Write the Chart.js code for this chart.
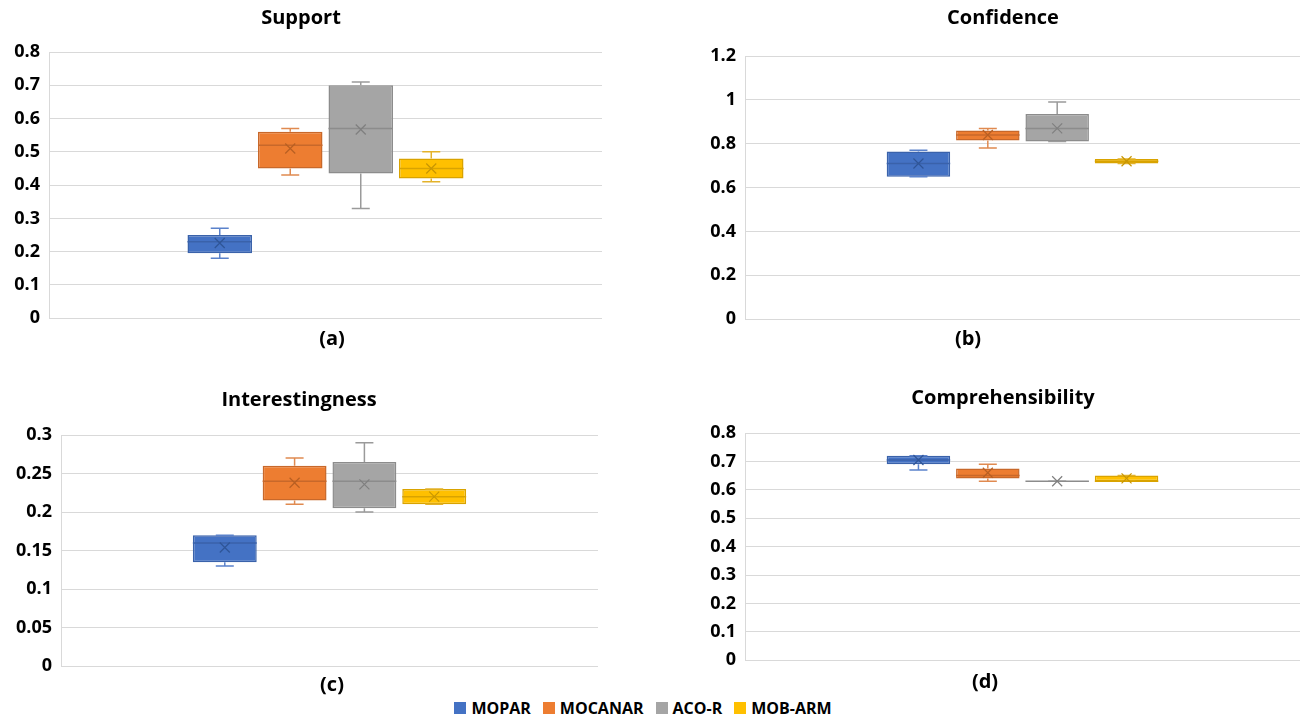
<!DOCTYPE html>
<html>
<head>
<meta charset="utf-8">
<script src="https://cdn.jsdelivr.net/npm/chart.js@4.4.1/dist/chart.umd.min.js"></script>
<style>
  body{margin:0;background:#fff;width:1304px;height:720px;position:relative;overflow:hidden;font-family:"Open Sans",sans-serif;}
  canvas{position:absolute;}
  .tag{position:absolute;font-weight:700;font-size:20px;color:#000;transform:translate(-50%,-50%);}
  #legend{position:absolute;left:0;width:1286px;top:697px;display:flex;justify-content:center;gap:12px;font-weight:700;font-size:16px;color:#000;}
  #legend span{display:flex;align-items:center;}
  #legend i{display:inline-block;width:12px;height:12px;margin-right:5px;}
</style>
</head>
<body>
<canvas id="cSupport"></canvas>
<canvas id="cConfidence"></canvas>
<canvas id="cInterest"></canvas>
<canvas id="cComp"></canvas>
<div class="tag" style="left:332px;top:337px">(a)</div>
<div class="tag" style="left:968px;top:337px">(b)</div>
<div class="tag" style="left:332px;top:683px">(c)</div>
<div class="tag" style="left:985px;top:680px">(d)</div>
<div id="legend"></div>

<script>
// ===== data =====
const methods = ['MOPAR','MOCANAR','ACO-R','MOB-ARM'];
const fills   = ['#4472C4','#ED7D31','#A5A5A5','#FFC000'];
const edges   = ['#3A62AA','#C8682A','#8C8C8C','#D9A300'];
const whisks  = ['#5B82CB','#E08A50','#9A9A9A','#E3B22A'];
const marks   = ['#2F5597','#B85F22','#7F7F7F','#C89600'];

// order per array: MOPAR, MOCANAR, ACO-R, MOB-ARM
const supportMin  = [0.18, 0.43, 0.33, 0.41];
const supportQ1   = [0.195,0.45, 0.435,0.42];
const supportMed  = [0.23, 0.52, 0.57, 0.45];
const supportQ3   = [0.25, 0.56, 0.70, 0.48];
const supportMax  = [0.27, 0.57, 0.71, 0.50];
const supportMean = [0.226,0.51, 0.567,0.45];

const confMin  = [0.65, 0.78, 0.81, 0.71];
const confQ1   = [0.65, 0.815,0.81, 0.71];
const confMed  = [0.71, 0.84, 0.87, 0.72];
const confQ3   = [0.765,0.86, 0.935,0.73];
const confMax  = [0.77, 0.87, 0.99, 0.73];
const confMean = [0.71, 0.84, 0.87, 0.72];

const intMin  = [0.13, 0.21, 0.20, 0.21];
const intQ1   = [0.135,0.215,0.205,0.21];
const intMed  = [0.16, 0.24, 0.24, 0.22];
const intQ3   = [0.17, 0.26, 0.265,0.23];
const intMax  = [0.17, 0.27, 0.29, 0.23];
const intMean = [0.154,0.238,0.236,0.22];

const compMin  = [0.67, 0.63, 0.63, 0.63];
const compQ1   = [0.69, 0.64, 0.63, 0.63];
const compMed  = [0.705,0.65, 0.63, 0.63];
const compQ3   = [0.72, 0.675,0.63, 0.65];
const compMax  = [0.72, 0.69, 0.63, 0.65];
const compMean = [0.705,0.66, 0.63, 0.64];

// ===== whiskers, median line and mean cross on top of the floating bars =====
const boxParts = {
  id:'boxParts',
  afterDatasetsDraw(chart){
    const y = chart.scales.y, ctx = chart.ctx;
    chart.data.datasets.forEach((ds,i)=>{
      const bar = chart.getDatasetMeta(i).data[0];
      if(!bar) return;
      const cx = bar.x, half = bar.width/2;
      const pLo = y.getPixelForValue(ds.data[0][0]);
      const pHi = y.getPixelForValue(ds.data[0][1]);
      const pMin = y.getPixelForValue(ds.whisk[0]);
      const pMax = y.getPixelForValue(ds.whisk[1]);
      ctx.save();
      ctx.lineWidth = 1.5;
      ctx.strokeStyle = whisks[i];
      ctx.beginPath();
      if(ds.whisk[1] > ds.data[0][1]){ ctx.moveTo(cx,pHi); ctx.lineTo(cx,pMax); }
      if(ds.whisk[0] < ds.data[0][0]){ ctx.moveTo(cx,pLo); ctx.lineTo(cx,pMin); }
      ctx.moveTo(cx-9,pMax); ctx.lineTo(cx+9,pMax);
      ctx.moveTo(cx-9,pMin); ctx.lineTo(cx+9,pMin);
      ctx.stroke();
      // median
      const pMed = y.getPixelForValue(ds.med);
      ctx.strokeStyle = edges[i];
      ctx.lineWidth = 1.5;
      ctx.beginPath(); ctx.moveTo(cx-half,pMed); ctx.lineTo(cx+half,pMed); ctx.stroke();
      // mean
      const pMean = y.getPixelForValue(ds.mean);
      ctx.strokeStyle = marks[i];
      ctx.lineWidth = 1.2;
      ctx.beginPath();
      ctx.moveTo(cx-5,pMean-5); ctx.lineTo(cx+5,pMean+5);
      ctx.moveTo(cx+5,pMean-5); ctx.lineTo(cx-5,pMean+5);
      ctx.stroke();
      ctx.restore();
    });
  }
};

function makeBoxChart(id, pos, title, stats, scale){
  const el = document.getElementById(id);
  el.width = pos.w; el.height = pos.h;
  el.style.left = pos.x+'px'; el.style.top = pos.y+'px';
  const datasets = methods.map((m,i)=>({
    label:m,
    data:[[stats.q1[i], stats.q3[i]]],
    whisk:[stats.min[i], stats.max[i]],
    med:stats.med[i],
    mean:stats.mean[i],
    backgroundColor:fills[i],
    borderColor:edges[i],
    borderWidth:1.5,
    borderSkipped:false,
    categoryPercentage:pos.cat,
    barPercentage:0.915
  }));
  return new Chart(el.getContext('2d'),{
    type:'bar',
    data:{ labels:[''], datasets },
    options:{
      responsive:false, animation:false,
      layout:{ padding:{ top:0, bottom:pos.pb, left:0, right:pos.pr } },
      plugins:{
        legend:{ display:false }, tooltip:{ enabled:false },
        title:{ display:true, text:title, color:'#000',
          font:{ family:'"Open Sans", sans-serif', size:20, weight:'bold' },
          padding:{ top:pos.tt, bottom:pos.tb } }
      },
      scales:{
        x:{ display:false },
        y:{
          min:0, max:scale.max,
          ticks:{ stepSize:scale.step, padding:9, color:'#000',
            font:{ family:'"Open Sans", sans-serif', size:18, weight:'bold' },
            callback:v=>String(+v.toFixed(2)) },
          grid:{ color:'#d9d9d9', lineWidth:1, drawTicks:false },
          border:{ display:true, color:'#d9d9d9' },
          afterFit:s=>{ s.width = pos.yw; }
        }
      }
    },
    plugins:[boxParts]
  });
}

makeBoxChart('cSupport', {x:0,y:0,w:612,h:338,yw:49,pr:10,pb:12,tt:6,tb:22,cat:0.51}, 'Support',
  {min:supportMin,q1:supportQ1,med:supportMed,q3:supportQ3,max:supportMax,mean:supportMean}, {max:0.8,step:0.1});
makeBoxChart('cConfidence', {x:706,y:0,w:598,h:339,yw:39,pr:4,pb:12,tt:6,tb:26,cat:0.5}, 'Confidence',
  {min:confMin,q1:confQ1,med:confMed,q3:confQ3,max:confMax,mean:confMean}, {max:1.2,step:0.2});
makeBoxChart('cInterest', {x:0,y:380,w:612,h:306,yw:61,pr:14,pb:12,tt:8,tb:23,cat:0.52}, 'Interestingness',
  {min:intMin,q1:intQ1,med:intMed,q3:intQ3,max:intMax,mean:intMean}, {max:0.3,step:0.05});
makeBoxChart('cComp', {x:706,y:380,w:598,h:300,yw:39,pr:4,pb:12,tt:6,tb:23,cat:0.5}, 'Comprehensibility',
  {min:compMin,q1:compQ1,med:compMed,q3:compQ3,max:compMax,mean:compMean}, {max:0.8,step:0.1});

// shared legend under the four panels
document.getElementById('legend').innerHTML = methods.map((m,i)=>
  `<span><i style="background:${fills[i]}"></i>${m}</span>`).join('');
</script>
</body>
</html>
